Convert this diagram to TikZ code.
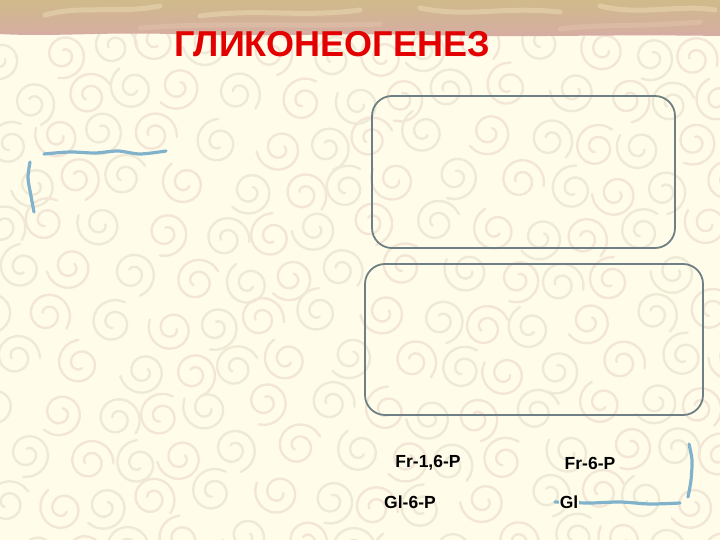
\documentclass[tikz,border=0pt]{standalone}
\usepackage{fontspec}
\setmainfont{Liberation Sans}
\usepackage{xcolor}
\usepackage{tikz}

\definecolor{paper}{RGB}{255,253,234}
\definecolor{swirl}{RGB}{239,234,214}
\definecolor{swirlpink}{RGB}{243,230,214}
\definecolor{stripTan}{RGB}{208,186,138}
\definecolor{stripPink}{RGB}{214,172,164}
\definecolor{streak}{RGB}{228,210,172}
\definecolor{boxline}{RGB}{110,128,132}
\definecolor{penblue}{RGB}{128,178,204}
\definecolor{titlered}{RGB}{226,0,0}

\tikzset{
  panel/.style={draw=boxline, line width=1.8pt, rounded corners=20pt},
  pen/.style={draw=penblue, line width=3.2pt, line cap=round, line join=round},
  metab/.style={font=\bfseries\fontsize{17.5}{20}\selectfont, inner sep=0pt},
  curl/.style={line width=2.4pt, line cap=round},
  streakline/.style={draw=streak, line width=5pt, line cap=round, opacity=0.7}
}

\begin{document}
\begin{tikzpicture}[x=1pt, y=-1pt]
		\useasboundingbox (0,0) rectangle (720,540);
		\fill[paper] (0,0) rectangle (720,540);

		% swirls in the paper
		\foreach \i in {0,...,13}{
			\foreach \j in {0,...,11}{
				\pgfmathsetmacro{\cx}{\i*54 + mod(\j,2)*26 + 10*sin(\i*73+\j*41)}
				\pgfmathsetmacro{\cy}{50 + \j*45 + 9*cos(\i*57+\j*29)}
				\pgfmathsetmacro{\rot}{mod(\i*97+\j*131,360)}
				\ifodd\i \def\col{swirlpink}\else\def\col{swirl}\fi
				\draw[curl, \col, shift={(\cx,\cy)}, rotate=\rot]
					plot[smooth, domain=0:560, samples=30] (\x:{5+\x/30});
			}
		}

		% torn strip on top
		\shade[top color=stripTan, bottom color=stripPink]
			(0,0) -- (720,0) -- (720,36) .. controls (600,34) and (520,38) .. (430,35)
			.. controls (330,33) and (260,37) .. (170,34)
			.. controls (100,32) and (50,37) .. (0,34) -- cycle;
		\draw[streakline] (45,15) .. controls (80,5) and (120,14) .. (160,6);
		\draw[streakline] (200,16) .. controls (260,8) and (300,18) .. (360,10);
		\draw[streakline] (420,8) .. controls (470,18) and (500,6) .. (560,12);
		\draw[streakline] (600,6) .. controls (640,16) and (680,4) .. (715,10);
		\draw[streakline, streak!50!stripPink] (140,28) .. controls (220,22) and (300,27) .. (380,24);
		\draw[streakline, streak!50!stripPink] (560,29) .. controls (600,24) and (640,27) .. (700,22);

		\node[text=titlered, font=\bfseries\fontsize{36}{40}\selectfont,
			inner sep=0pt, anchor=west] (title) at (174,44) {ГЛИКОНЕОГЕНЕЗ};

		\draw[panel] (372,96) rectangle (675,248);
		\draw[panel] (365,264) rectangle (703,415);

		% hand drawn strokes
		\draw[pen] plot[smooth] coordinates {(44,154) (70,152) (95,153) (118,151) (140,154) (166,151)};
		\draw[pen] plot[smooth] coordinates {(30,162) (28,178) (31,196) (34,212)};
		\draw[pen] plot[smooth] coordinates {(689,444) (692,460) (691,480) (688,497)};
		\draw[pen] plot[smooth] coordinates {(555,502) (590,503) (620,502) (650,504) (680,503)};

		\node[metab] (fr16p) at (428,463) {Fr-1,6-P};
		\node[metab] (fr6p) at (590,463) {Fr-6-P};
		\node[metab] (gl6p) at (410,502) {Gl-6-P};
		\node[metab, fill=paper, inner sep=1pt] (gl) at (569,502) {Gl};
\end{tikzpicture}
\end{document}
